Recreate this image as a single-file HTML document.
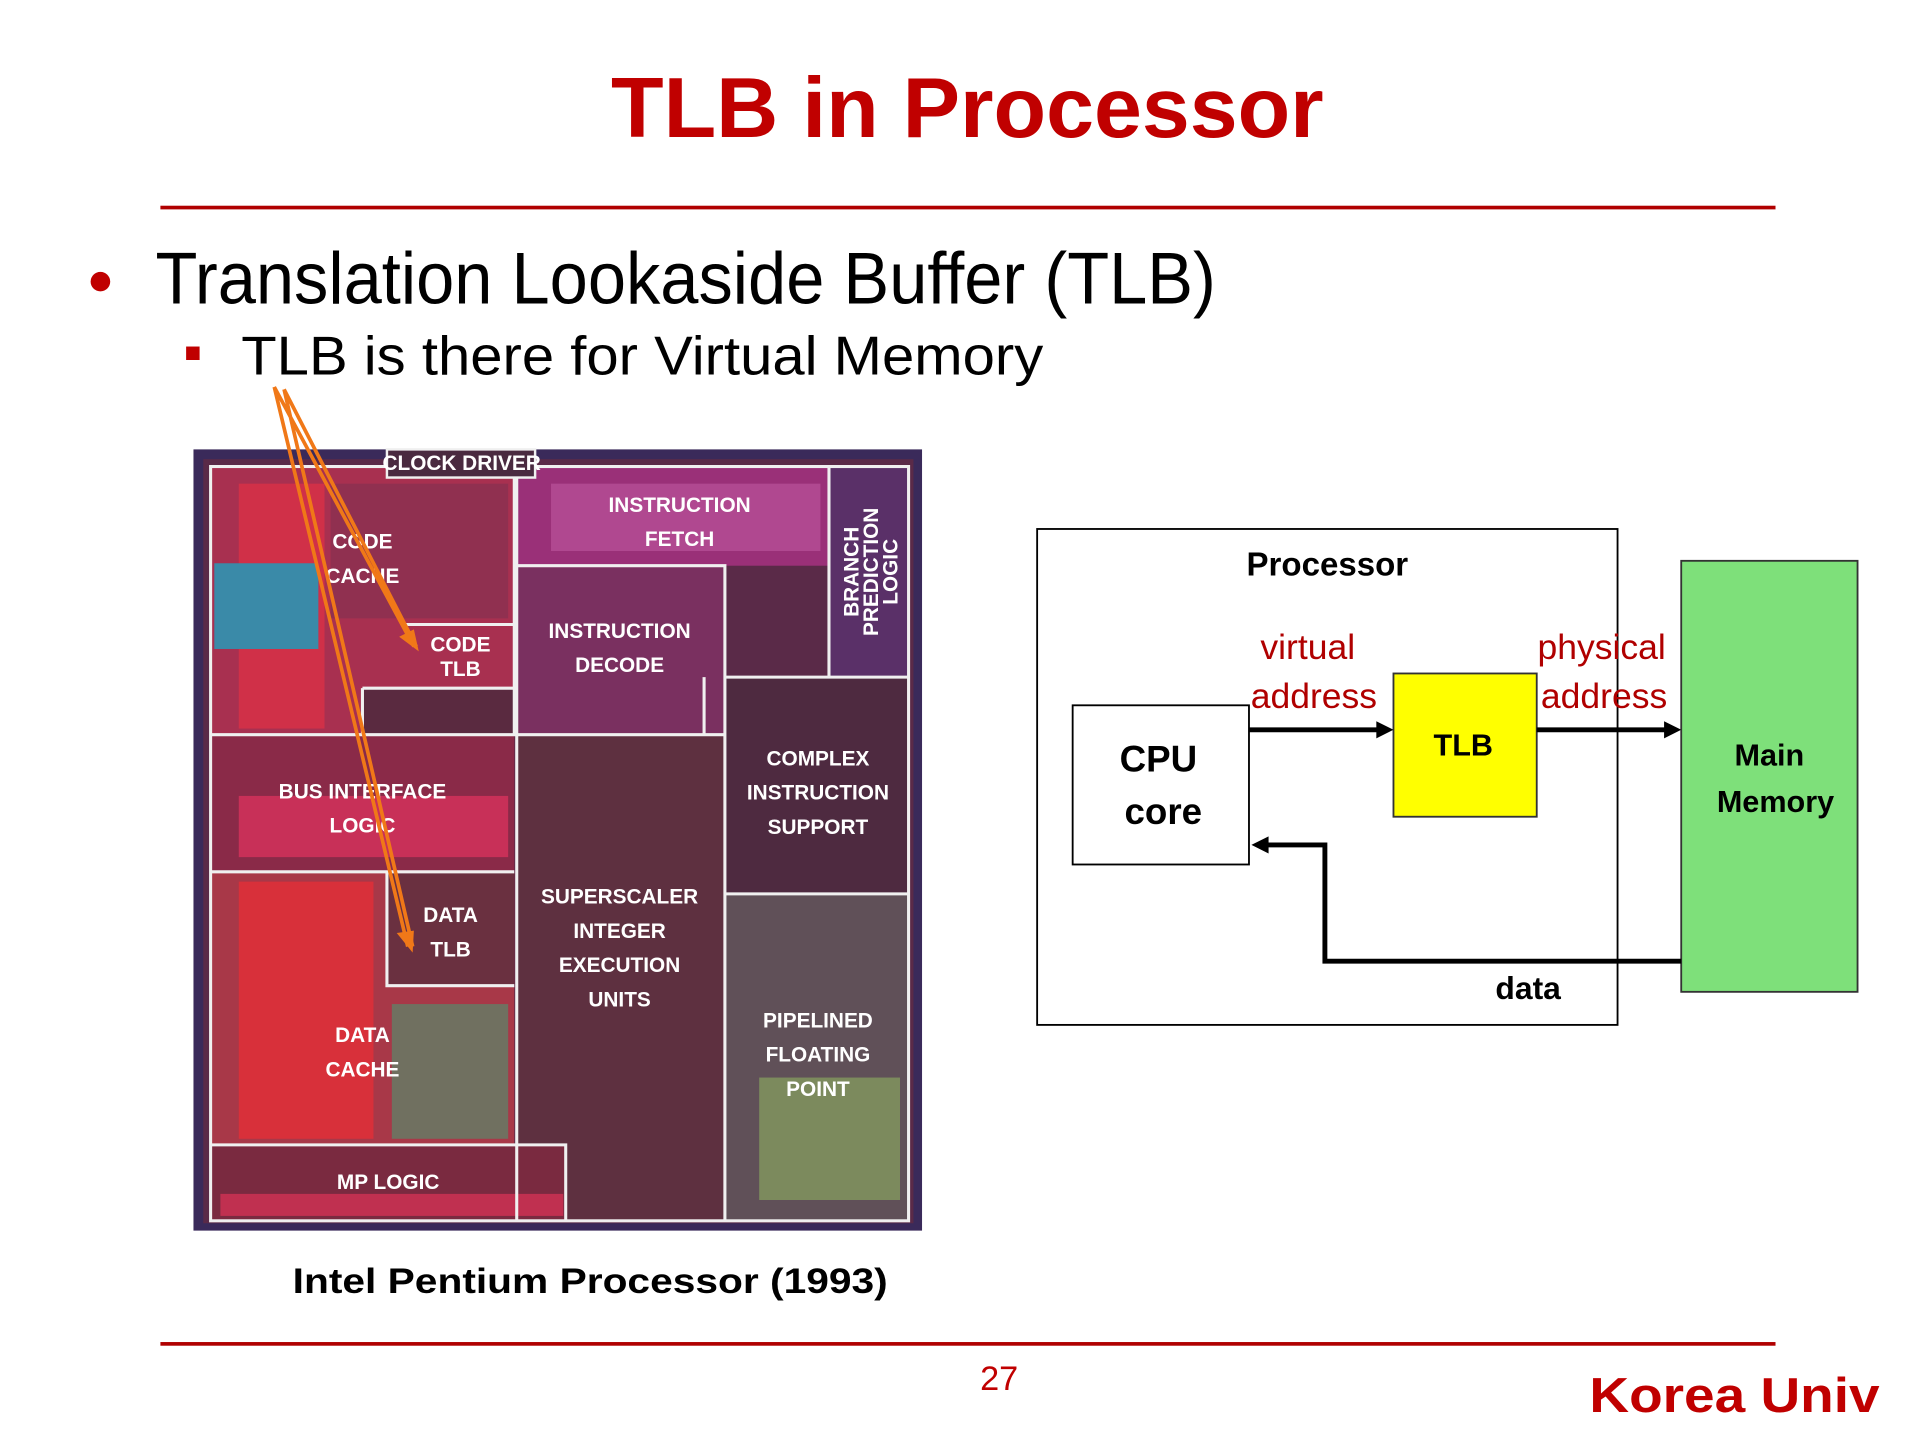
<!DOCTYPE html>
<html><head><meta charset="utf-8"><style>
html,body{margin:0;padding:0;background:#fff;}
svg{display:block}
.lb{font-family:"Liberation Sans",sans-serif;font-weight:bold;fill:#fff;font-size:17px;text-anchor:middle}
</style></head><body>
<svg width="1920" height="1440" viewBox="0 0 1568 1176" xmlns="http://www.w3.org/2000/svg">
<rect width="1568" height="1176" fill="#fff"/>
<text x="790" y="112" text-anchor="middle" font-family="Liberation Sans,sans-serif" font-weight="bold" font-size="70" fill="#c00000" textLength="582" lengthAdjust="spacingAndGlyphs">TLB in Processor</text>
<rect x="131" y="168" width="1319" height="3" fill="#b00000"/>
<circle cx="82" cy="230" r="8" fill="#c00000"/>
<text x="127" y="248" font-family="Liberation Sans,sans-serif" font-size="60" fill="#000" textLength="866" lengthAdjust="spacingAndGlyphs">Translation Lookaside Buffer (TLB)</text>
<rect x="152" y="283" width="11" height="11" fill="#c00000"/>
<text x="197" y="306" font-family="Liberation Sans,sans-serif" font-size="45" fill="#000" textLength="655" lengthAdjust="spacingAndGlyphs">TLB is there for Virtual Memory</text>

<!-- die -->
<rect x="158" y="367" width="595" height="638" fill="#3a2a5a"/>
<rect x="166" y="375" width="580" height="624" fill="#5a2a48"/>
<rect x="172" y="381" width="248" height="219" fill="#a83050"/>
<rect x="195" y="395" width="70" height="200" fill="#d03048"/>
<rect x="175" y="460" width="85" height="70" fill="#3a8aa8"/>
<rect x="270" y="395" width="145" height="110" fill="#903050"/>
<rect x="296" y="562" width="124" height="38" fill="#5a2a40"/>
<rect x="422" y="381" width="255" height="81" fill="#9a3078"/>
<rect x="450" y="395" width="220" height="55" fill="#b04890"/>
<rect x="677" y="381" width="65" height="172" fill="#5a3068"/>
<rect x="422" y="462" width="170" height="138" fill="#7a3060"/>
<rect x="172" y="600" width="248" height="112" fill="#8a2a48"/>
<rect x="195" y="650" width="220" height="50" fill="#c83058"/>
<rect x="592" y="553" width="150" height="177" fill="#4e2a40"/>
<rect x="172" y="712" width="248" height="223" fill="#a83848"/>
<rect x="195" y="720" width="110" height="210" fill="#d8303a"/>
<rect x="316" y="712" width="104" height="93" fill="#6a3040"/>
<rect x="320" y="820" width="95" height="110" fill="#707060"/>
<rect x="422" y="600" width="170" height="397" fill="#5e3040"/>
<rect x="592" y="730" width="150" height="267" fill="#605058"/>
<rect x="620" y="880" width="115" height="100" fill="#90b060" opacity="0.6"/>
<rect x="172" y="935" width="290" height="62" fill="#7a2a40"/>
<rect x="180" y="975" width="280" height="18" fill="#c03050"/>
<g fill="none" stroke="#f0f0f0" stroke-width="2.5">
<rect x="172" y="381" width="570" height="616"/>
<path d="M172 600H420V381M422 381V997M172 712H420M331 510H420V562M296 562H420M296 562V600M422 462H592V600H575V600M575 553V600H422M592 553H742M677 381V553M592 553V997M592 730H742M316 712V805H420M172 935H462V997"/>
</g>
<rect x="316" y="367" width="121" height="23" fill="#4a2a40" stroke="#f0f0f0" stroke-width="2"/>
<text x="377" y="384" class="lb" font-size="13" font-weight="normal">CLOCK DRIVER</text>
<text x="296" y="448" class="lb">CODE</text><text x="296" y="476" class="lb">CACHE</text>
<text x="376" y="532" class="lb">CODE</text><text x="376" y="552" class="lb">TLB</text>
<text x="555" y="418" class="lb">INSTRUCTION</text><text x="555" y="446" class="lb">FETCH</text>
<text x="506" y="521" class="lb">INSTRUCTION</text><text x="506" y="549" class="lb">DECODE</text>
<g transform="translate(713,467) rotate(-90)"><text x="0" y="-12" class="lb" font-size="15">BRANCH</text><text x="0" y="4" class="lb" font-size="15">PREDICTION</text><text x="0" y="20" class="lb" font-size="15">LOGIC</text></g>
<text x="296" y="652" class="lb">BUS INTERFACE</text><text x="296" y="680" class="lb">LOGIC</text>
<text x="668" y="625" class="lb">COMPLEX</text><text x="668" y="653" class="lb">INSTRUCTION</text><text x="668" y="681" class="lb">SUPPORT</text>
<text x="368" y="753" class="lb">DATA</text><text x="368" y="781" class="lb">TLB</text>
<text x="506" y="738" class="lb">SUPERSCALER</text><text x="506" y="766" class="lb">INTEGER</text><text x="506" y="794" class="lb">EXECUTION</text><text x="506" y="822" class="lb">UNITS</text>
<text x="296" y="851" class="lb">DATA</text><text x="296" y="879" class="lb">CACHE</text>
<text x="668" y="839" class="lb">PIPELINED</text><text x="668" y="867" class="lb">FLOATING</text><text x="668" y="895" class="lb">POINT</text>
<text x="317" y="971" class="lb">MP LOGIC</text>
<g stroke="#f07818" stroke-width="3" fill="none">
<path d="M224 316L338 528M224 316L333 773M232 318L340 528M232 318L337 773"/>
</g>
<path d="M342 532L326 520L338 514Z M337 778L324 762L338 760Z" fill="#f07818"/>
<text x="482" y="1056" text-anchor="middle" font-family="Liberation Sans,sans-serif" font-weight="bold" font-size="29" fill="#000" textLength="486" lengthAdjust="spacingAndGlyphs">Intel Pentium Processor (1993)</text>

<!-- diagram -->
<rect x="847" y="432" width="474" height="405" fill="none" stroke="#000" stroke-width="1.5"/>
<text x="1084" y="470" text-anchor="middle" font-family="Liberation Sans,sans-serif" font-weight="bold" font-size="27">Processor</text>
<rect x="1373" y="458" width="144" height="352" fill="#7ee07a" stroke="#333" stroke-width="1.5"/>
<text x="1445" y="625" text-anchor="middle" font-family="Liberation Sans,sans-serif" font-weight="bold" font-size="25">Main</text>
<text x="1450" y="663" text-anchor="middle" font-family="Liberation Sans,sans-serif" font-weight="bold" font-size="25">Memory</text>
<rect x="876" y="576" width="144" height="130" fill="#fff" stroke="#000" stroke-width="1.5"/>
<text x="946" y="630" text-anchor="middle" font-family="Liberation Sans,sans-serif" font-weight="bold" font-size="30">CPU</text>
<text x="950" y="673" text-anchor="middle" font-family="Liberation Sans,sans-serif" font-weight="bold" font-size="30">core</text>
<rect x="1138" y="550" width="117" height="117" fill="#ffff00" stroke="#333" stroke-width="1.5"/>
<text x="1195" y="617" text-anchor="middle" font-family="Liberation Sans,sans-serif" font-weight="bold" font-size="25">TLB</text>
<g font-family="Liberation Sans,sans-serif" font-size="29" fill="#b00000">
<text x="1068" y="538" text-anchor="middle">virtual</text>
<text x="1073" y="578" text-anchor="middle">address</text>
<text x="1308" y="538" text-anchor="middle">physical</text>
<text x="1310" y="578" text-anchor="middle">address</text>
</g>
<g stroke="#000" stroke-width="4" fill="none">
<path d="M1020 596H1128M1255 596H1362M1373 785H1082V690H1032"/>
</g>
<path d="M1138 596L1124 589V603Z M1373 596L1359 589V603Z M1022 690L1036 683V697Z" fill="#000"/>
<text x="1248" y="816" text-anchor="middle" font-family="Liberation Sans,sans-serif" font-weight="bold" font-size="26">data</text>

<rect x="131" y="1096" width="1319" height="3" fill="#b00000"/>
<text x="816" y="1135" text-anchor="middle" font-family="Liberation Sans,sans-serif" font-size="28" fill="#c00000">27</text>
<text x="1535" y="1153" text-anchor="end" font-family="Liberation Sans,sans-serif" font-weight="bold" font-size="40" fill="#c00000" textLength="237" lengthAdjust="spacingAndGlyphs">Korea Univ</text>
</svg>
</body></html>
